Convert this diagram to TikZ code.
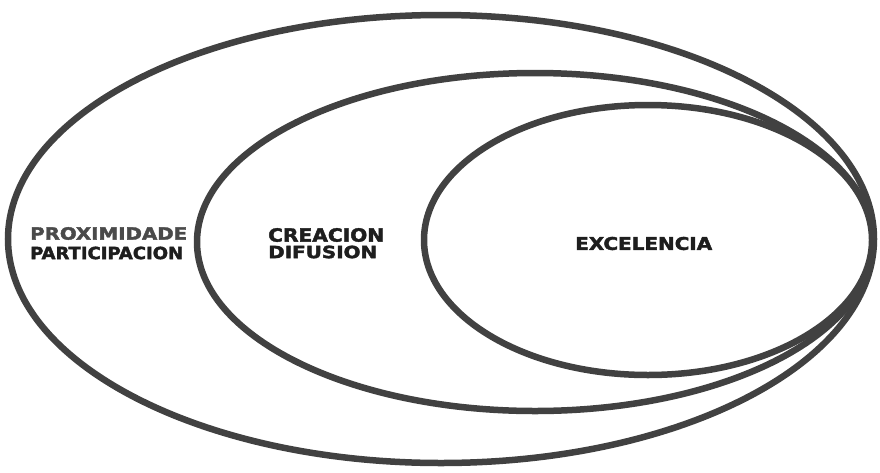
\documentclass[tikz,border=0pt]{standalone}
\usepackage{fontspec}
\usepackage{graphicx}
\setmainfont{DejaVu Sans}
\newfontfamily\heavyfont[FakeBold=2]{DejaVu Sans Condensed Bold}
\definecolor{ringgray}{HTML}{414141}
\definecolor{labgray}{HTML}{4A4A4A}
\definecolor{labblack}{HTML}{1E1E1E}
% stretch a heavy label to the width and cap height it has in the picture
\newcommand{\fitlab}[3]{\resizebox{#1pt}{#2pt}{\heavyfont #3}}
\begin{document}
\begin{tikzpicture}[x=1pt, y=-1pt,
			ring/.style={draw=ringgray, line width=6.5pt},
			lab/.style={inner sep=0pt, anchor=west, text=labblack}]
			\useasboundingbox (0,0) rectangle (880,472);
			\draw[ring] (441, 239) ellipse [x radius=433, y radius=224];
			\draw[ring] (535, 242) ellipse [x radius=338, y radius=169];
			\draw[ring] (648, 240) ellipse [x radius=224, y radius=135];
			\node[lab, text=labgray] (prox) at (30, 233.5) {\fitlab{157}{12.5}{PROXIMIDADE}};
			\node[lab] (part) at (30, 253) {\fitlab{153}{12.5}{PARTICIPACION}};
			\node[lab] (crea) at (268, 235) {\fitlab{116}{13.5}{CREACION}};
			\node[lab] (difu) at (268, 252) {\fitlab{109}{12.5}{DIFUSION}};
			\node[lab] (exce) at (575, 243.5) {\fitlab{137}{13}{EXCELENCIA}};
		\end{tikzpicture}
\end{document}
